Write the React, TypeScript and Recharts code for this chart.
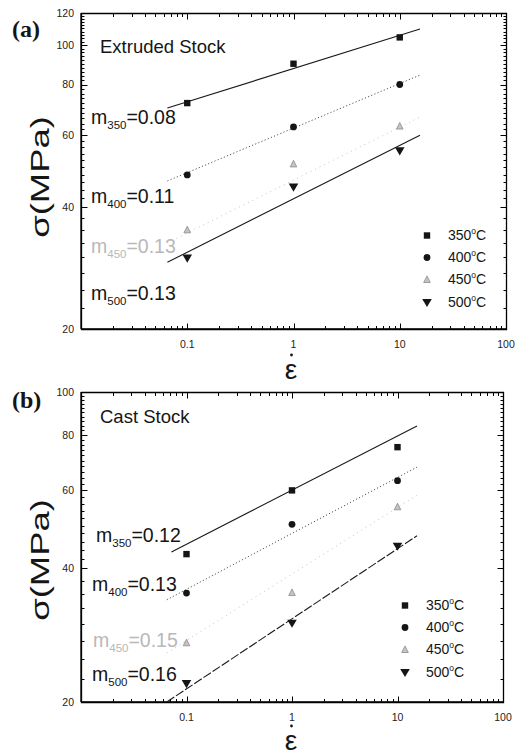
import { ScatterChart, Scatter, XAxis, YAxis } from "recharts"

// strain rates (1/s)
const rates = [0.1, 1, 10]

// (a) extruded stock, flow stress in MPa
const extruded350 = [72, 90, 104.5]
const extruded400 = [47.9, 62.9, 80]
const extruded450 = [35.1, 51, 63.2]
const extruded500 = [29.9, 44.7, 54.9]

// (b) cast stock
const cast350 = [43.1, 60, 75.1]
const cast400 = [35.2, 50.3, 63.1]
const cast450 = [27.2, 35.3, 55.1]
const cast500 = [22, 30.1, 44.9]

// fitted power-law lines, [start, end]
const extrudedFitX = [0.065, 15.5]
const extrudedFit350 = [70, 109.6]
const extrudedFit400 = [46.3, 84.4]
const extrudedFit450 = [32.6, 66.5]
const extrudedFit500 = [29.2, 60]

const castFitX350 = [0.072, 15.3]
const castFitX = [0.065, 15.3]
const castFit350 = [43.6, 83.8]
const castFit400 = [34, 67.7]
const castFit450 = [25.8, 58.5]
const castFit500 = [20, 47.4]

const temps = ["350", "400", "450", "500"]
const extrudedM = ["0.08", "0.11", "0.13", "0.13"]
const castM = ["0.12", "0.13", "0.15", "0.16"]

const xTicks = [
  0.01, 0.02, 0.03, 0.04, 0.05, 0.06, 0.07, 0.08, 0.09,
  0.1, 0.2, 0.3, 0.4, 0.5, 0.6, 0.7, 0.8, 0.9,
  1, 2, 3, 4, 5, 6, 7, 8, 9,
  10, 20, 30, 40, 50, 60, 70, 80, 90, 100,
]
const xLabels = [0.1, 1, 10, 100]
const yMajorA = [20, 40, 60, 80, 100, 120]
const yMajorB = [20, 40, 60, 80, 100]
const X_DOMAIN: [number, number] = [0.01, 100]

const steps = (from: number, to: number, step: number) => {
  const out: number[] = []
  for (let v = from; v < to - 1e-6; v += step) out.push(+v.toFixed(2))
  return out
}
const yMinor = [...steps(22.5, 40, 2.5), ...steps(42, 60, 2), ...steps(62, 80, 2), ...steps(82, 100, 2), ...steps(102, 120, 2)]

const FONT = "'Liberation Sans', Arial, sans-serif"
const INK = "#151515"
const CHART_W = 518
const CHART_H = 378
const Y_AXIS_W = 81

const pts = (xs: number[], ys: number[]) => xs.map((x, i) => ({ x, y: ys[i] }))

function Marker({ kind, cx, cy }: { kind: number; cx: number; cy: number }) {
  if (kind === 0) return <rect x={cx - 3.2} y={cy - 3.2} width={6.4} height={6.4} fill={INK} />
  if (kind === 1) return <circle cx={cx} cy={cy} r={3.4} fill={INK} />
  if (kind === 2)
    return <polygon points={`${cx - 3.3},${cy + 3} ${cx + 3.3},${cy + 3} ${cx},${cy - 3.6}`} fill="#c4c4c4" stroke="#8a8a8a" strokeWidth={0.8} />
  return <polygon points={`${cx - 4.8},${cy - 3.6} ${cx + 4.8},${cy - 3.6} ${cx},${cy + 4.6}`} fill={INK} />
}

// tick labels come from the axes
const BottomLabel = (p: any) => {
  const v = p.payload.value
  if (!xLabels.includes(v)) return <g />
  return <text x={p.x} y={p.y + 19} textAnchor="middle" fontSize={10.5} fontFamily={FONT} fill="#222">{String(v)}</text>
}
const makeLeftLabel = (majors: number[]) => (p: any) => {
  const v = p.payload.value
  if (!majors.includes(v)) return <g />
  return <text x={p.x - 7} y={p.y} dy="0.36em" textAnchor="end" fontSize={10.5} fontFamily={FONT} fill="#222">{String(v)}</text>
}

const lineStyles = [
  { stroke: "#1a1a1a", strokeWidth: 1.1 },
  { stroke: "#555", strokeWidth: 1, strokeDasharray: "1.2 2.2" },
  { stroke: "#c4c4c4", strokeWidth: 1, strokeDasharray: "1 4" },
]

type PanelDef = {
  top: number
  series: number[][]
  fits: { x: number[]; y: number[] }[]
  yDomain: [number, number]
  yMajor: number[]
  marginTop: number
  marginRight: number
  xHeight: number
  lastDash: string | undefined
}

function Panel({ d }: { d: PanelDef }) {
  const yTicks = [...d.yMajor, ...yMinor.filter(v => v > d.yDomain[0] && v < d.yDomain[1])]
  const axisLine = { stroke: "#000", strokeWidth: 1.3 }
  return (
    <ScatterChart width={CHART_W} height={CHART_H} margin={{ top: d.marginTop, right: d.marginRight, left: 0, bottom: 0 }}>
      <XAxis type="number" dataKey="x" scale="log" domain={X_DOMAIN} allowDataOverflow
        ticks={xTicks} interval={0} tick={BottomLabel} tickLine={false} tickSize={0} tickMargin={0}
        height={d.xHeight} axisLine={axisLine} />
      <YAxis type="number" dataKey="y" scale="log" domain={d.yDomain} allowDataOverflow
        ticks={yTicks} interval={0} tick={makeLeftLabel(d.yMajor)} tickLine={false} tickSize={0} tickMargin={0}
        width={Y_AXIS_W} axisLine={axisLine} />
      {d.fits.map((f, i) => {
        const st = i === 3 ? { ...lineStyles[0], strokeDasharray: d.lastDash } : lineStyles[i]
        return (
          <Scatter key={"fit" + i} data={pts(f.x, f.y)} fill={st.stroke}
            line={st} shape={() => <g />} isAnimationActive={false} />
        )
      })}
      {d.series.map((s, i) => (
        <Scatter key={temps[i]} data={pts(rates, s)}
          shape={(p: any) => <Marker kind={i} cx={p.cx} cy={p.cy} />} isAnimationActive={false} />
      ))}
    </ScatterChart>
  )
}

// box and inward ticks on all four sides, laid out from the same plot geometry as the chart
function Frame({ d }: { d: PanelDef }) {
  const left = Y_AXIS_W
  const right = CHART_W - d.marginRight
  const top = d.top + d.marginTop
  const bottom = d.top + CHART_H - d.xHeight
  const lx = (v: number) => left + (Math.log10(v) - Math.log10(X_DOMAIN[0])) / (Math.log10(X_DOMAIN[1]) - Math.log10(X_DOMAIN[0])) * (right - left)
  const ly = (v: number) => bottom - (Math.log10(v) - Math.log10(d.yDomain[0])) / (Math.log10(d.yDomain[1]) - Math.log10(d.yDomain[0])) * (bottom - top)
  const yTicks = [...d.yMajor, ...yMinor.filter(v => v > d.yDomain[0] && v < d.yDomain[1])]
  const c = (n: number) => Math.round(n) + 0.5
  const L = c(left), R = c(right), T = c(top), B = c(bottom)
  return (
    <g>
      <path d={`M${L},${T}H${R}V${B}H${L}Z`} stroke="#000" strokeWidth={1.3} fill="none" />
      {xTicks.map(v => {
        const len = xLabels.includes(v) ? 6 : 3.5
        const x = c(lx(v))
        return (
          <path key={"x" + v} d={`M${x},${B}V${B - len}M${x},${T}V${T + len}`} stroke="#000" strokeWidth={1} fill="none" />
        )
      })}
      {yTicks.map(v => {
        const len = d.yMajor.includes(v) ? 6 : 3
        const y = c(ly(v))
        return (
          <path key={"y" + v} d={`M${L},${y}H${L + len}M${R},${y}H${R - len}`} stroke="#000" strokeWidth={1} fill="none" />
        )
      })}
    </g>
  )
}

type Notes = {
  tag: string
  tagY: number
  title: string
  titleY: number
  mValues: string[]
  mX: number[]
  mY: number[]
  legendX: number
  legendY: number[]
  yLabelY: number
  epsY: number
}

function Overlay({ n }: { n: Notes }) {
  return (
    <g fontFamily={FONT}>
      <text x={12} y={n.tagY} fontSize={24} fontWeight="bold" fontFamily="'Liberation Serif', 'Times New Roman', serif" fill={INK}>{n.tag}</text>
      <text x={100} y={n.titleY} fontSize={18.5} fill={INK}>{n.title}</text>
      {n.mValues.map((m, i) => (
        <text key={i} x={n.mX[i]} y={n.mY[i]} fontSize={19.5} fill={i === 2 ? "#b8b8b8" : INK}>
          m<tspan fontSize={11.5} dy={5}>{temps[i]}</tspan><tspan dy={-5}>={m}</tspan>
        </text>
      ))}
      {temps.map((t, i) => (
        <g key={t}>
          <Marker kind={i} cx={n.legendX} cy={n.legendY[i] - 4.5} />
          <text x={n.legendX + 21} y={n.legendY[i]} fontSize={14} fill={INK}>
            {t}<tspan fontSize={8.5} dy={-6}>o</tspan><tspan dy={6}>C</tspan>
          </text>
        </g>
      ))}
      <text transform={`translate(49,${n.yLabelY}) rotate(-90) scale(1.4,1)`} textAnchor="middle" fontSize={26} fill={INK}>σ(MPa)</text>
      <text x={291} y={n.epsY} textAnchor="middle" fontSize={28} fill={INK}>ε</text>
      <circle cx={291.5} cy={n.epsY - 24} r={1.4} fill={INK} />
    </g>
  )
}

const panelA: PanelDef = {
  top: 0,
  series: [extruded350, extruded400, extruded450, extruded500],
  fits: [
    { x: extrudedFitX, y: extrudedFit350 },
    { x: extrudedFitX, y: extrudedFit400 },
    { x: extrudedFitX, y: extrudedFit450 },
    { x: extrudedFitX, y: extrudedFit500 },
  ],
  yDomain: [20, 120], yMajor: yMajorA, marginTop: 13, marginRight: 12, xHeight: 49, lastDash: undefined,
}
const panelB: PanelDef = {
  top: 378,
  series: [cast350, cast400, cast450, cast500],
  fits: [
    { x: castFitX350, y: castFit350 },
    { x: castFitX, y: castFit400 },
    { x: castFitX, y: castFit450 },
    { x: castFitX, y: castFit500 },
  ],
  yDomain: [20, 100], yMajor: yMajorB, marginTop: 14, marginRight: 15, xHeight: 54, lastDash: "9 2",
}

const notesA: Notes = {
  tag: "(a)", tagY: 37, title: "Extruded Stock", titleY: 53, mValues: extrudedM,
  mX: [91, 91, 91, 91], mY: [124, 203, 253, 300],
  legendX: 427, legendY: [240, 262, 284, 307], yLabelY: 177, epsY: 379,
}
const notesB: Notes = {
  tag: "(b)", tagY: 408, title: "Cast Stock", titleY: 423, mValues: castM,
  mX: [96, 92, 93, 92], mY: [542, 591, 647, 681],
  legendX: 405, legendY: [610, 632, 654, 677], yLabelY: 560, epsY: 750,
}

export default function App() {
  return (
    <div style={{ position: "absolute", left: 0, top: 0, width: 518, height: 756, background: "#fff" }}>
      <div style={{ position: "absolute", left: 0, top: panelA.top }}>
        <Panel d={panelA} />
      </div>
      <div style={{ position: "absolute", left: 0, top: panelB.top }}>
        <Panel d={panelB} />
      </div>
      <svg width={518} height={756} style={{ position: "absolute", left: 0, top: 0, pointerEvents: "none" }}>
        <Frame d={panelA} />
        <Frame d={panelB} />
        <Overlay n={notesA} />
        <Overlay n={notesB} />
      </svg>
    </div>
  )
}
